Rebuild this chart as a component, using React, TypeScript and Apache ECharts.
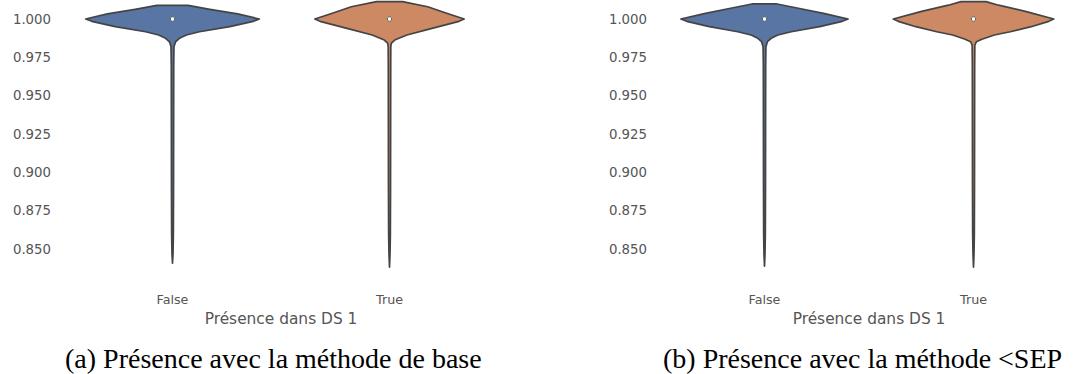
import React, { useEffect, useRef } from "react";
import * as echarts from "echarts";

const categories = ["False", "True"];
const yTicks = [0.85, 0.875, 0.9, 0.925, 0.95, 0.975, 1.0];
const medians = [1.0, 1.0];

// Violin outlines: value levels and relative half-widths (density)
const leftFalseLevels = [1.0089, 1.0063, 1.0033, 1.0, 0.9985, 0.995, 0.9917, 0.9896, 0.9874, 0.9852, 0.982, 0.97, 0.93, 0.89, 0.86, 0.847, 0.8409];
const leftFalseWidths = [0.18, 0.43, 0.75, 1.0, 0.93, 0.66, 0.31, 0.16, 0.08, 0.035, 0.017, 0.014, 0.013, 0.012, 0.01, 0.006, 0];
const leftTrueLevels = [1.0113, 1.008, 1.0039, 1.0, 0.9985, 0.9939, 0.9896, 0.9863, 0.9843, 0.982, 0.97, 0.93, 0.89, 0.86, 0.847, 0.8383];
const leftTrueWidths = [0.15, 0.44, 0.65, 0.86, 0.8, 0.49, 0.2, 0.06, 0.022, 0.015, 0.014, 0.013, 0.012, 0.01, 0.006, 0];
const rightFalseLevels = [1.0098, 1.0075, 1.0035, 1.0, 0.9985, 0.995, 0.9917, 0.9896, 0.9874, 0.9852, 0.982, 0.97, 0.93, 0.89, 0.86, 0.847, 0.839];
const rightFalseWidths = [0.15, 0.36, 0.72, 1.0, 0.93, 0.66, 0.32, 0.16, 0.08, 0.035, 0.017, 0.014, 0.013, 0.012, 0.01, 0.006, 0];
const rightTrueLevels = [1.0113, 1.009, 1.005, 1.0, 0.9985, 0.995, 0.9917, 0.9896, 0.9868, 0.9852, 0.983, 0.97, 0.93, 0.89, 0.86, 0.847, 0.8383];
const rightTrueWidths = [0.15, 0.3, 0.62, 0.96, 0.9, 0.69, 0.44, 0.25, 0.1, 0.035, 0.016, 0.014, 0.013, 0.012, 0.01, 0.006, 0];

const captionA = "(a) Présence avec la méthode de base";
const captionB = "(b) Présence avec la méthode <SEP";
const axisName = "Présence dans DS 1";

const COLORS = ["#5875a4", "#cc8963"];
const EDGE = "#444444";
const TEXT = "#555555";

function makeRender(levels: number[][], widths: number[][]) {
  return (params: any, api: any) => {
    const idx = params.dataIndex;
    const cat = api.value(0);
    const band = api.size([1, 0])[0];
    const hwMax = band * 0.4;
    const lv = levels[idx];
    const wd = widths[idx];
    const right: number[][] = [];
    const left: number[][] = [];
    for (let i = 0; i < lv.length; i++) {
      const p = api.coord([cat, lv[i]]);
      const hw = wd[i] * hwMax;
      right.push([p[0] + hw, p[1]]);
      left.push([p[0] - hw, p[1]]);
    }
    const pts = right.concat(left.reverse());
    const m = api.coord([cat, medians[idx]]);
    return {
      type: "group",
      children: [
        {
          type: "polygon",
          shape: { points: pts },
          style: { fill: COLORS[idx], stroke: EDGE, lineWidth: 1.7, lineJoin: "round" },
        },
        {
          type: "circle",
          shape: { cx: m[0], cy: m[1], r: 2.2 },
          style: { fill: "#ffffff", stroke: "#555555", lineWidth: 0.9 },
        },
      ],
    };
  };
}

export default function App() {
  const ref = useRef<HTMLDivElement>(null);
  useEffect(() => {
    if (!ref.current) return;
    const chart = echarts.init(ref.current, null, { renderer: "svg" });
    const yMin = 0.838;
    const yMax = 1.011;
    const gridTop = 2.13;
    const gridH = 265.57;
    const mkY = (gi: number, margin: number) => ({
      type: "value",
      gridIndex: gi,
      min: yMin,
      max: yMax,
      axisLine: { show: false },
      axisTick: { show: false },
      splitLine: { show: false },
      axisLabel: {
        customValues: yTicks,
        formatter: (v: number) => v.toFixed(3),
        color: TEXT,
        fontFamily: "DejaVu Sans",
        fontSize: 13.3,
        margin,
      },
    });
    const mkX = (gi: number) => ({
      type: "category",
      gridIndex: gi,
      data: categories,
      axisLine: { show: false },
      axisTick: { show: false },
      splitLine: { show: false },
      axisLabel: { color: TEXT, fontFamily: "DejaVu Sans", fontSize: 12.7, margin: 25 },
      name: axisName,
      nameLocation: "middle",
      nameGap: 44,
      nameTextStyle: { color: TEXT, fontFamily: "DejaVu Sans", fontSize: 15.4 },
    });
    chart.setOption({
      animation: false,
      backgroundColor: "#ffffff",
      grid: [
        { left: 64, top: gridTop, width: 434, height: gridH },
        { left: 660, top: gridTop, width: 434, height: gridH },
      ],
      xAxis: [mkX(0), mkX(1)],
      yAxis: [mkY(0, 13), mkY(1, 13)],
      title: [
        {
          text: captionA,
          left: 65,
          top: 344,
          padding: 0,
          textStyle: { fontFamily: "Liberation Serif", fontSize: 28, fontWeight: "normal", color: "#000000" },
        },
        {
          text: captionB,
          left: 663,
          top: 344,
          padding: 0,
          textStyle: { fontFamily: "Liberation Serif", fontSize: 28, fontWeight: "normal", color: "#000000" },
        },
      ],
      series: [
        {
          type: "custom",
          xAxisIndex: 0,
          yAxisIndex: 0,
          data: [[0], [1]],
          encode: { x: 0 },
          renderItem: makeRender([leftFalseLevels, leftTrueLevels], [leftFalseWidths, leftTrueWidths]),
        },
        {
          type: "custom",
          xAxisIndex: 1,
          yAxisIndex: 1,
          data: [[0], [1]],
          encode: { x: 0 },
          renderItem: makeRender([rightFalseLevels, rightTrueLevels], [rightFalseWidths, rightTrueWidths]),
        },
      ],
    });
    return () => chart.dispose();
  }, []);
  return (
    <div
      ref={ref}
      style={{ position: "fixed", left: 0, top: 0, width: 1078, height: 374, overflow: "hidden" }}
    />
  );
}
